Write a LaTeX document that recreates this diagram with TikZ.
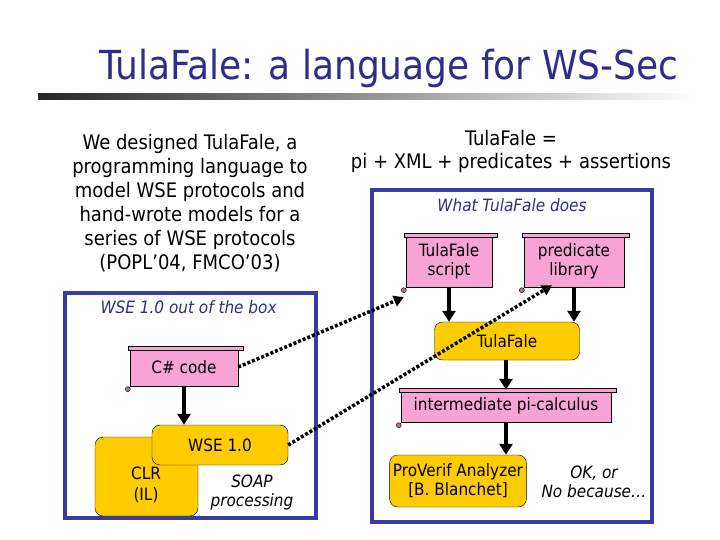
\documentclass[tikz,border=0pt]{standalone}
\usepackage{fontspec}
\setmainfont{DejaVu Sans Condensed}
\usetikzlibrary{positioning,arrows.meta}
\definecolor{ttl}{HTML}{2E2E8A}
\definecolor{frm}{HTML}{3A3AA6}
\definecolor{pnk}{HTML}{F7A3D6}
\definecolor{ylw}{HTML}{FFCC00}
\tikzset{
  scroll/.style={draw, fill=pnk, thin, minimum height=#1, inner sep=2pt, align=center, font=\fontsize{17}{19}\selectfont},
  scroll/.default={34pt},
  blob/.style={draw, fill=ylw, rounded corners=8pt, thin, align=center, font=\fontsize{17}{19}\selectfont},
  frame/.style={draw=frm, line width=3.5pt},
  flow/.style={-{Triangle[length=11pt,width=13pt]}, line width=3.5pt},
  link/.style={-{Triangle[length=10pt,width=11pt]}, line width=3.5pt, dash pattern=on 3pt off 2pt},
  note/.style={font=\fontsize{17}{19}\selectfont\itshape, text=ttl},
}
\newcommand{\curl}[1]{%
  \draw[fill=pnk] ([xshift=-2pt,yshift=-2pt]#1.north west) rectangle ([xshift=5pt,yshift=2pt]#1.north east);
  \draw[fill=pnk!70!black] ([xshift=-2pt,yshift=-3pt]#1.south west) circle (2.5pt);}
\begin{document}
\begin{tikzpicture}[x=1pt,y=-1pt]
\useasboundingbox (0,0) rectangle (720,540);
\shade[left color=black!85, right color=white] (38,94) rectangle (695,100);
\node[text=ttl, font=\fontsize{40}{42}\selectfont] (title) at (389,68) {TulaFale: a language for WS-Sec};

% left text
\node[align=center, font=\fontsize{20}{24}\selectfont] (intro) at (190,203)
  {We designed TulaFale, a\\ programming language to\\ model WSE protocols and\\ hand-wrote models for a\\ series of WSE protocols\\ (POPL’04, FMCO’03)};
\node[align=center, font=\fontsize{20}{23}\selectfont] (eqn) at (511,151)
  {TulaFale =\\ pi + XML + predicates + assertions};

% the two frames
\draw[frame] (372,190) rectangle (652,522);
\draw[frame] (65,293) rectangle (316,518);
\node[note] (what) at (512,205) {What TulaFale does};
\node[note, anchor=west] (wse) at (97,307) {WSE 1.0 out of the box};

% right side
\node[scroll={52pt}, minimum width=86pt] (script) at (449,261) {TulaFale\\ script};
\node[scroll={52pt}, minimum width=100pt] (predlib) at (574,261) {predicate\\ library};
\curl{script}\curl{predlib}
\node[blob, minimum width=145pt, minimum height=38pt] (tula) at (507,341) {TulaFale};
\node[scroll={32pt}, minimum width=210pt] (inter) at (506,406) {intermediate pi-calculus};
\curl{inter}
\node[blob, minimum width=136pt, minimum height=52pt] (proverif) at (458,481) {ProVerif Analyzer\\ {[B. Blanchet]}};
\node[note, text=black, align=center] (ok) at (594,482) {OK, or\\ No because…};

% left side
\node[scroll={38pt}, minimum width=108pt] (csharp) at (184,367) {C\# code};
\curl{csharp}
\draw[blob] (95,437) rectangle (198,516);
\node[font=\fontsize{17}{21}\selectfont, align=center] (clr) at (146,485) {CLR\\ (IL)};
\node[blob, minimum width=136pt, minimum height=40pt] (wsebox) at (220,445) {WSE 1.0};
\node[note, text=black, align=center] (soap) at (252,492) {SOAP\\ processing};

% arrows
\draw[flow] (script.south) -- (script.south |- tula.north);
\draw[flow] (predlib.south) -- (predlib.south |- tula.north);
\draw[flow] (tula.south -| inter.north) -- (inter.north);
\draw[flow] (inter.south) -- (inter.south |- proverif.north);
\draw[flow] (csharp.south) -- (csharp.south |- wsebox.north);
\draw[link] (csharp.east) -- ([xshift=-2pt,yshift=-10pt]script.south west);
\draw[link] (wsebox.east) -- ([xshift=-22pt,yshift=2pt]predlib.south);
\end{tikzpicture}
\end{document}
